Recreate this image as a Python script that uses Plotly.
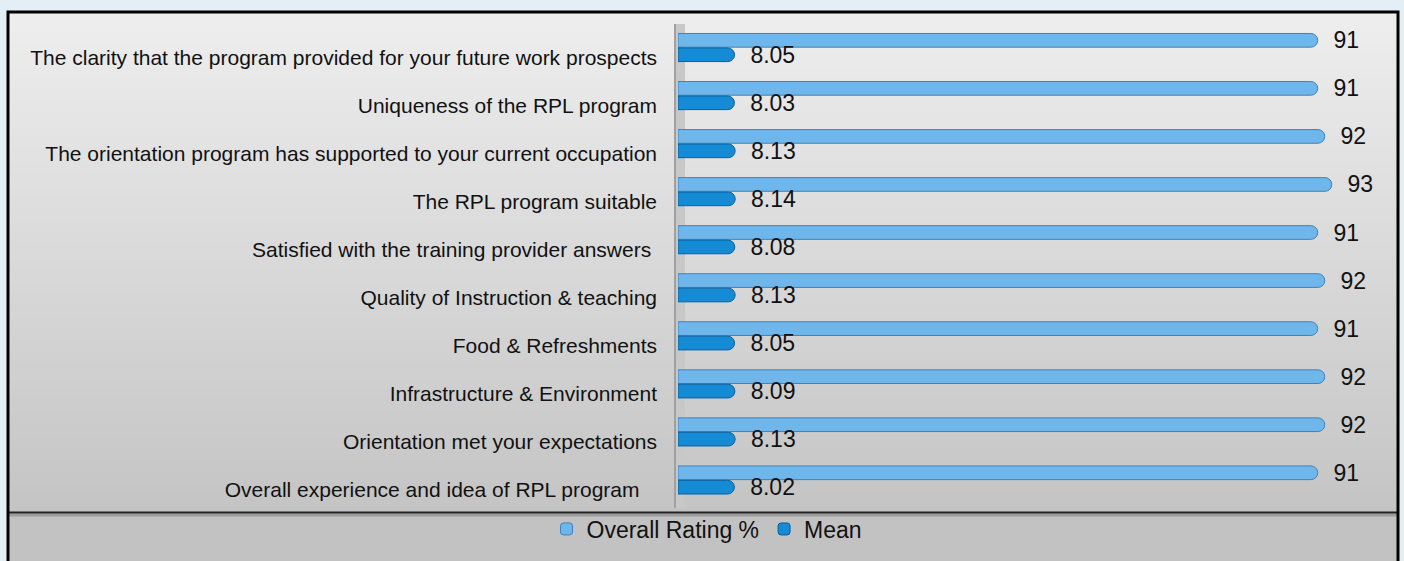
import plotly.graph_objects as go

categories = [
    "The clarity that the program provided for your future work prospects",
    "Uniqueness of the RPL program",
    "The orientation program has supported to your current occupation",
    "The RPL program suitable",
    "Satisfied with the training provider answers ",
    "Quality of Instruction & teaching",
    "Food & Refreshments",
    "Infrastructure & Environment",
    "Orientation met your expectations",
    "Overall experience and idea of RPL program   ",
]
overall_rating = [91, 91, 92, 93, 91, 92, 91, 92, 92, 91]
mean_values = [8.05, 8.03, 8.13, 8.14, 8.08, 8.13, 8.05, 8.09, 8.13, 8.02]

W, H = 1404, 561
FONT = "Liberation Sans, Arial, sans-serif"

def px_x(p):
    return p / W

def px_y(p):
    return 1 - p / H

fig = go.Figure()
fig.add_trace(go.Bar(
    y=categories, x=overall_rating, orientation="h", name="Overall Rating %",
    marker=dict(color="#6fb6ea", line=dict(color="#3d83bd", width=1), cornerradius=7),
    text=overall_rating, texttemplate="  %{x}", textposition="outside",
    constraintext="none",
    textfont=dict(size=23, color="#111111", family=FONT), cliponaxis=False,
))
fig.add_trace(go.Bar(
    y=categories, x=mean_values, orientation="h", name="Mean",
    marker=dict(color="#158ad5", line=dict(color="#0d5f99", width=1), cornerradius=7),
    text=mean_values, texttemplate="  %{x:.2f}", textposition="outside",
    constraintext="none",
    textfont=dict(size=23, color="#111111", family=FONT), cliponaxis=False,
))

shapes = []
top, sep = 12, 513
n = 100
c0, c1 = 238, 196
for i in range(n):
    y0 = top + (sep - top) * i / n
    y1 = top + (sep - top) * (i + 1) / n + 1
    g = int(round(c0 + (c1 - c0) * (i + 0.5) / n))
    shapes.append(dict(type="rect", xref="paper", yref="paper", layer="below",
                       x0=px_x(8), x1=px_x(1398), y0=px_y(min(y1, sep)), y1=px_y(y0),
                       fillcolor=f"rgb({g},{g},{g})", line=dict(width=0)))
shapes.append(dict(type="rect", xref="paper", yref="paper", layer="below",
                   x0=px_x(8), x1=px_x(1398), y0=0, y1=px_y(sep),
                   fillcolor="rgb(194,194,194)", line=dict(width=0)))
# wall strip
shapes.append(dict(type="rect", xref="paper", yref="paper", layer="below",
                   x0=px_x(674), x1=px_x(685), y0=px_y(508), y1=px_y(24),
                   fillcolor="rgb(200,200,200)", line=dict(width=0)))
shapes.append(dict(type="line", xref="paper", yref="paper", layer="below",
                   x0=px_x(675), x1=px_x(675), y0=px_y(508), y1=px_y(24),
                   line=dict(color="rgb(160,160,160)", width=2)))
# separator
shapes.append(dict(type="line", xref="paper", yref="paper",
                   x0=px_x(8), x1=px_x(1398), y0=px_y(515), y1=px_y(515),
                   line=dict(color="rgba(0,0,0,0.2)", width=3)))
shapes.append(dict(type="line", xref="paper", yref="paper",
                   x0=px_x(8), x1=px_x(1398), y0=px_y(512.5), y1=px_y(512.5),
                   line=dict(color="#222222", width=2)))
# frame
shapes.append(dict(type="rect", xref="paper", yref="paper",
                   x0=px_x(8), x1=px_x(1398), y0=px_y(575), y1=px_y(12),
                   line=dict(color="#000000", width=3), fillcolor="rgba(0,0,0,0)"))

fig.update_layout(
    width=W, height=H,
    margin=dict(l=0, r=0, t=0, b=0),
    paper_bgcolor="#e3eef5",
    plot_bgcolor="rgba(0,0,0,0)",
    barmode="group", bargap=0.4, bargroupgap=0.05,
    shapes=shapes,
    font=dict(family=FONT, size=21, color="#111111"),
    xaxis=dict(domain=[px_x(678), px_x(1381)], range=[0, 100], visible=False,
               showgrid=False, zeroline=False),
    yaxis=dict(domain=[px_y(504), px_y(23.5)], autorange="reversed",
               showgrid=False, zeroline=False, showline=False,
               ticks="", ticklabelstandoff=20, ticklabelshift=-10,
               tickfont=dict(size=21, family=FONT, color="#111111")),
    legend=dict(orientation="h", x=px_x(707), xanchor="center", y=px_y(529), yanchor="middle",
                font=dict(size=23, family=FONT, color="#111111"),
                bgcolor="rgba(0,0,0,0)", itemwidth=30, traceorder="normal"),
    showlegend=True,
)

fig.write_html("out.html", config={"displayModeBar": False},
               post_script="document.body.style.margin='0';document.body.style.background='#e3eef5';")
